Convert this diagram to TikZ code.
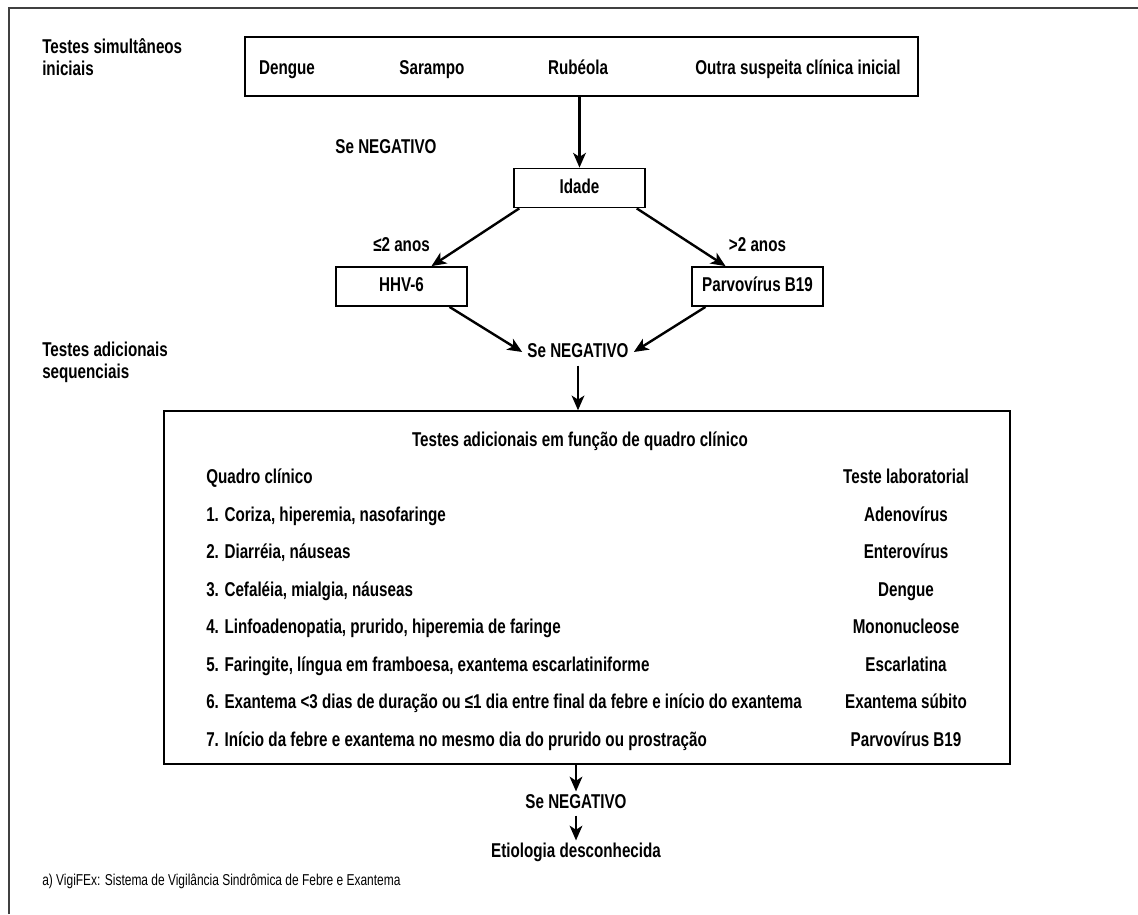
\documentclass[tikz,border=0pt]{standalone}
\usepackage{fontspec}
\setmainfont{Liberation Sans}[FakeStretch=0.76]
\usetikzlibrary{arrows.meta,calc}
\begin{document}
\begin{tikzpicture}[x=0.75pt,y=-0.75pt,
  every node/.style={inner sep=0pt, text height=11pt, text depth=3pt, font=\fontsize{15}{16.5}\selectfont\bfseries},
  box/.style={draw=black, line width=1.1pt, minimum width=98.25pt, minimum height=29.5pt},
  lbl/.style={align=left, anchor=north west, text height={}, text depth={}},
  arr/.style={line width=1.8pt, -{Stealth[length=11pt,width=9.5pt,inset=3pt]}},
  row/.style={anchor=west},
  res/.style={anchor=center},
  foot/.style={anchor=west, font=\fontsize{11.8}{13}\selectfont}
]
\useasboundingbox (0,0) rectangle (1138,914);
% outer frame
\draw[line width=1pt, black!75] (9,914) -- (9,8) -- (1138,8);

% left labels
\node[lbl] (l1) at (42,38) {Testes simultâneos\\iniciais};
\node[lbl] (l2) at (42,342) {Testes adicionais\\sequenciais};

% top box
\node[draw=black, line width=1.1pt, minimum width=504.75pt, minimum height=44.25pt, text height={}, text depth={}] (top) at (581.5,66.5) {};
\node (t1) at (287,69) {Dengue};
\node (t2) at (432,69) {Sarampo};
\node (t3) at (578,69) {Rubéola};
\node (t4) at (798,69) {Outra suspeita clínica inicial};

\node (neg1) at (386,148) {Se NEGATIVO};
\node[box] (idade) at (579.5,188) {Idade};
\draw[arr] (idade.north |- top.south) -- (idade.north);

\node (le) at (401.5,246) {≤2 anos};
\node (gt) at (757.5,246) {>2 anos};
\node[box] (hhv) at (401.5,286.5) {HHV-6};
\node[box] (parvo) at (757.5,286.5) {Parvovírus B19};

\draw[arr] ($(idade.south west)+(6,0)$) -- ($(hhv.north)+(30,0)$);
\draw[arr] ($(idade.south east)+(-9,0)$) -- ($(parvo.north)+(-32,0)$);

\node (neg2) at (578,352) {Se NEGATIVO};
\draw[arr] ($(hhv.south)+(48,0)$) -- ($(neg2.west)+(-5,0)$);
\draw[arr] ($(parvo.south)+(-52,0)$) -- ($(neg2.east)+(5,0)$);

% big box
\node[draw=black, line width=1.1pt, minimum width=634.5pt, minimum height=264.75pt, text height={}, text depth={}] (big) at (587,587.5) {};
\draw[arr] ($(neg2.south)+(0,4)$) -- (neg2.south |- big.north);

\node (title) at (580,441) {Testes adicionais em função de quadro clínico};
\node[row] (h1) at (206,478) {Quadro clínico};
\node[res] (h2) at (906,478) {Teste laboratorial};
\node[row] (r1) at (206,516) {1. Coriza, hiperemia, nasofaringe};
\node[res] (s1) at (906,516) {Adenovírus};
\node[row] (r2) at (206,553.5) {2. Diarréia, náuseas};
\node[res] (s2) at (906,553.5) {Enterovírus};
\node[row] (r3) at (206,591) {3. Cefaléia, mialgia, náuseas};
\node[res] (s3) at (906,591) {Dengue};
\node[row] (r4) at (206,628.5) {4. Linfoadenopatia, prurido, hiperemia de faringe};
\node[res] (s4) at (906,628.5) {Mononucleose};
\node[row] (r5) at (206,666) {5. Faringite, língua em framboesa, exantema escarlatiniforme};
\node[res] (s5) at (906,666) {Escarlatina};
\node[row] (r6) at (206,703.5) {6. Exantema <3 dias de duração ou ≤1 dia entre final da febre e início do exantema};
\node[res] (s6) at (906,703.5) {Exantema súbito};
\node[row] (r7) at (206,741) {7. Início da febre e exantema no mesmo dia do prurido ou prostração};
\node[res] (s7) at (906,741) {Parvovírus B19};

\node (neg3) at (576,803) {Se NEGATIVO};
\draw[arr] (big.south -| neg3.north) -- ($(neg3.north)+(0,-2)$);
\node (etio) at (576,852) {Etiologia desconhecida};
\draw[arr] ($(neg3.south)+(0,3)$) -- ($(etio.north)+(0,-2)$);

\node[foot] (fn) at (42,880) {a) VigiFEx: Sistema de Vigilância Sindrômica de Febre e Exantema};
\end{tikzpicture}
\end{document}
